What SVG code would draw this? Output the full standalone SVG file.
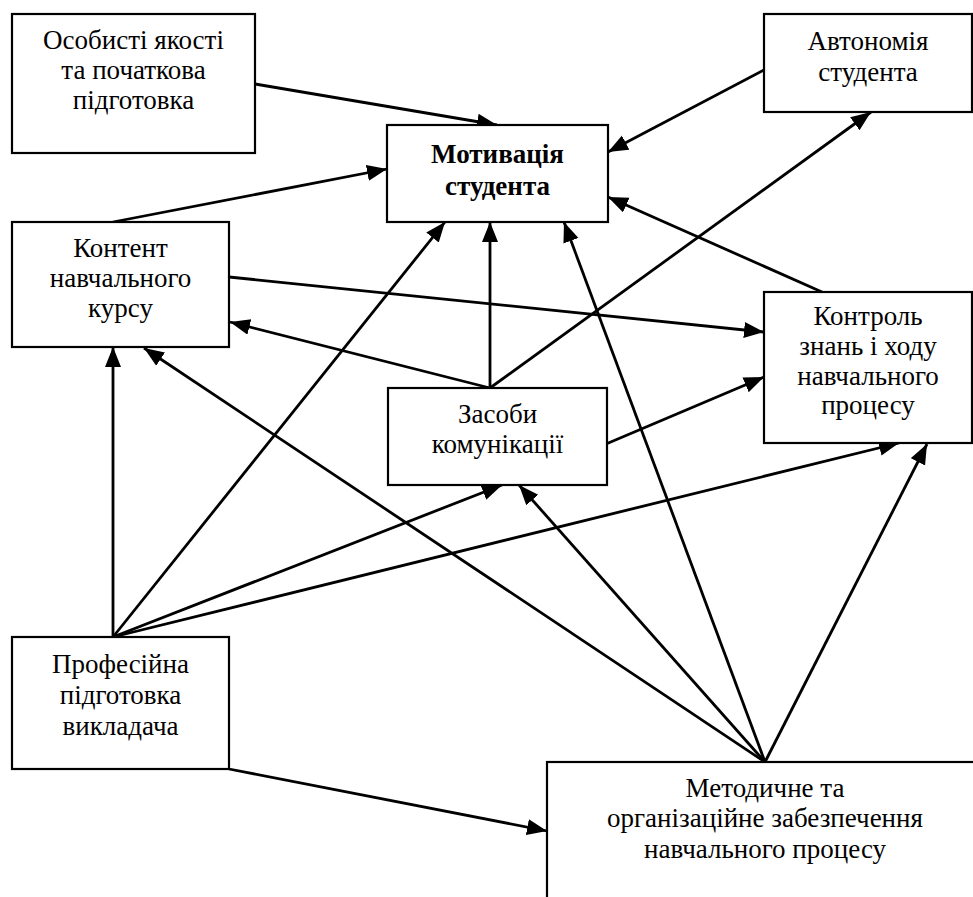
<svg xmlns="http://www.w3.org/2000/svg" width="973" height="897" viewBox="0 0 973 897">
<style>
.box{fill:#fff;stroke:#000;stroke-width:2.2}
.c{fill:none;stroke:#000;stroke-width:2.8;marker-end:url(#ah)}
</style>
<defs>
<marker id="ah" markerUnits="userSpaceOnUse" markerWidth="21" markerHeight="17" refX="20" refY="8" orient="auto">
<path d="M0,0 L20,8 L0,16 z" fill="#000"/>
</marker>
</defs>
<rect width="973" height="897" fill="#fff"/>
<g id="connectors">
<line class="c" x1="255" y1="84" x2="497" y2="125"/>
<line class="c" x1="113" y1="222" x2="387" y2="169"/>
<line class="c" x1="764" y1="70" x2="608" y2="152"/>
<line class="c" x1="490" y1="388" x2="871" y2="112"/>
<line class="c" x1="822" y1="292" x2="608" y2="197"/>
<line class="c" x1="490" y1="388" x2="490" y2="222"/>
<line class="c" x1="490" y1="388" x2="230" y2="322"/>
<line class="c" x1="229" y1="277" x2="764" y2="332"/>
<line class="c" x1="606" y1="444" x2="764" y2="377"/>
<line class="c" x1="113" y1="637" x2="113" y2="347"/>
<line class="c" x1="113" y1="637" x2="445" y2="222"/>
<line class="c" x1="113" y1="637" x2="502" y2="485"/>
<line class="c" x1="113" y1="637" x2="899" y2="443"/>
<line class="c" x1="229" y1="769" x2="547" y2="831"/>
<line class="c" x1="765" y1="762" x2="144" y2="348"/>
<line class="c" x1="765" y1="762" x2="519" y2="485"/>
<line class="c" x1="765" y1="762" x2="564" y2="222"/>
<line class="c" x1="765" y1="762" x2="927" y2="444"/>
</g>
<g font-family="Liberation Serif, Times New Roman, serif" font-size="27" text-anchor="middle" fill="#000">
<g id="n-osobysti">
<rect class="box" x="12" y="14" width="243" height="139"/>
<text x="133.5" y="49">Особисті якості</text>
<text x="133.5" y="79">та початкова</text>
<text x="133.5" y="109">підготовка</text>
</g>
<g id="n-motyvatsiia">
<rect class="box" x="387" y="125" width="221" height="97"/>
<text font-weight="bold" x="497.5" y="163">Мотивація</text>
<text font-weight="bold" x="497.5" y="195">студента</text>
</g>
<g id="n-avtonomiia">
<rect class="box" x="764" y="14" width="208" height="98"/>
<text x="868" y="50">Автономія</text>
<text x="868" y="81">студента</text>
</g>
<g id="n-kontent">
<rect class="box" x="12" y="222" width="217" height="125"/>
<text x="120.5" y="257">Контент</text>
<text x="120.5" y="287">навчального</text>
<text x="120.5" y="317">курсу</text>
</g>
<g id="n-zasoby">
<rect class="box" x="388" y="388" width="219" height="97"/>
<text x="497.5" y="423">Засоби</text>
<text x="497.5" y="453">комунікації</text>
</g>
<g id="n-kontrol">
<rect class="box" x="764" y="292" width="208" height="151"/>
<text x="868" y="325">Контроль</text>
<text x="868" y="355">знань і ходу</text>
<text x="868" y="385">навчального</text>
<text x="868" y="414">процесу</text>
</g>
<g id="n-profesiina">
<rect class="box" x="12" y="637" width="217" height="132"/>
<text x="120.5" y="673">Професійна</text>
<text x="120.5" y="704">підготовка</text>
<text x="120.5" y="735">викладача</text>
</g>
<g id="n-metodychne">
<rect class="box" x="547" y="762" width="440" height="160"/>
<text x="765" y="797">Методичне та</text>
<text x="765" y="827">організаційне забезпечення</text>
<text x="765" y="858">навчального процесу</text>
</g>
</g>
</svg>
